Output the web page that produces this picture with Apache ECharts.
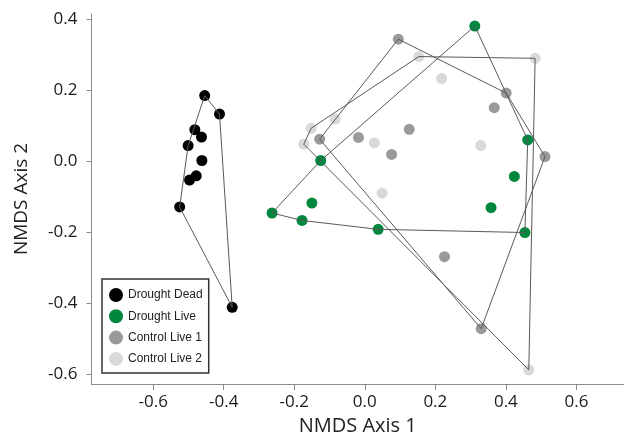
<!DOCTYPE html>
<html>
<head>
<meta charset="utf-8">
<script src="https://cdn.jsdelivr.net/npm/echarts@6/dist/echarts.min.js"></script>
<style>html,body{margin:0;padding:0;background:#fff;}#c{width:624px;height:443px;}</style>
</head>
<body>
<div id="c"></div>
<script>
// Group names
var groupNames = ['Drought Dead', 'Drought Live', 'Control Live 1', 'Control Live 2'];

// NMDS coordinates
var deadX = [-0.454, -0.412, -0.482, -0.463, -0.501, -0.462, -0.478, -0.497, -0.525, -0.376];
var deadY = [0.185, 0.133, 0.089, 0.068, 0.044, 0.002, -0.041, -0.053, -0.129, -0.412];

var liveX = [0.312, -0.125, 0.462, 0.424, -0.150, -0.263, -0.178, 0.038, 0.358, 0.454];
var liveY = [0.381, 0.002, 0.060, -0.043, -0.118, -0.146, -0.167, -0.192, -0.131, -0.201];

var ctrl1X = [0.095, 0.401, 0.367, 0.126, -0.018, -0.128, 0.076, 0.511, 0.226, 0.330];
var ctrl1Y = [0.344, 0.192, 0.151, 0.090, 0.067, 0.062, 0.019, 0.013, -0.269, -0.472];

var ctrl2X = [0.153, 0.483, 0.218, -0.084, -0.152, -0.173, 0.027, 0.329, 0.049, 0.465];
var ctrl2Y = [0.295, 0.290, 0.233, 0.119, 0.093, 0.048, 0.052, 0.044, -0.090, -0.588];

// Tick values
var xTicks = [-0.6, -0.4, -0.2, 0.0, 0.2, 0.4, 0.6];
var yTicks = [-0.6, -0.4, -0.2, 0.0, 0.2, 0.4];

function zip(xs, ys) { return xs.map(function (x, i) { return [x, ys[i]]; }); }
function cross(o, a, b) { return (a[0] - o[0]) * (b[1] - o[1]) - (a[1] - o[1]) * (b[0] - o[0]); }
function hull(pts) {
  var p = pts.slice().sort(function (a, b) { return a[0] - b[0] || a[1] - b[1]; });
  var lower = [], upper = [];
  p.forEach(function (q) { while (lower.length >= 2 && cross(lower[lower.length - 2], lower[lower.length - 1], q) <= 0) lower.pop(); lower.push(q); });
  for (var i = p.length - 1; i >= 0; i--) { var q = p[i]; while (upper.length >= 2 && cross(upper[upper.length - 2], upper[upper.length - 1], q) <= 0) upper.pop(); upper.push(q); }
  upper.pop(); lower.pop();
  var h = lower.concat(upper);
  h.push(h[0]);
  return h;
}

var groups = [
  { name: groupNames[0], data: zip(deadX, deadY), color: '#000000' },
  { name: groupNames[1], data: zip(liveX, liveY), color: '#00873e' },
  { name: groupNames[2], data: zip(ctrl1X, ctrl1Y), color: '#9a9a9a' },
  { name: groupNames[3], data: zip(ctrl2X, ctrl2Y), color: '#d9d9d9' }
];

var series = [];
groups.slice().reverse().forEach(function (g) {
  series.push({
    name: g.name, type: 'scatter', data: g.data, symbol: 'circle', symbolSize: 11,
    itemStyle: { color: g.color, opacity: 1 }, z: 2, animation: false
  });
});
groups.forEach(function (g) {
  series.push({
    type: 'line', data: hull(g.data), showSymbol: false, symbol: 'none', z: 3,
    lineStyle: { color: '#5a5a5a', width: 1 }, silent: true, animation: false
  });
});

var chart = echarts.init(document.getElementById('c'), null, { renderer: 'canvas' });
chart.setOption({
  animation: false,
  backgroundColor: '#ffffff',
  grid: { left: 91.5, top: 14, right: 0, bottom: 59, containLabel: false },
  legend: {
    data: groupNames.map(function (n, i) { return { name: n, itemStyle: { color: groups[i].color } }; }),
    orient: 'vertical', left: 102, top: 279,
    padding: [9, 6, 7, 7], itemGap: 7.3, itemWidth: 14, itemHeight: 14, icon: 'circle',
    borderColor: '#333333', borderWidth: 1.5, backgroundColor: '#ffffff',
    textStyle: { fontFamily: 'Liberation Sans', fontSize: 12, color: '#222' }
  },
  xAxis: {
    type: 'value', min: -0.775, max: 0.735,
    name: 'NMDS Axis 1', nameLocation: 'middle', nameGap: 30,
    nameTextStyle: { fontFamily: 'Open Sans', fontSize: 20, color: '#222' },
    axisLine: { show: true, onZero: false, lineStyle: { color: '#8c8c8c', width: 1 } },
    axisTick: { show: true, inside: false, length: 6, customValues: xTicks, lineStyle: { color: '#8c8c8c' } },
    axisLabel: { customValues: xTicks, margin: 10, fontFamily: 'Open Sans', fontSize: 17, color: '#1a1a1a',
      formatter: function (v) { return v.toFixed(1); } },
    splitLine: { show: false }
  },
  yAxis: {
    type: 'value', min: -0.628, max: 0.415,
    name: 'NMDS Axis 2', nameLocation: 'middle', nameGap: 60, nameRotate: 90,
    nameTextStyle: { fontFamily: 'Open Sans', fontSize: 19, color: '#222' },
    axisLine: { show: true, onZero: false, lineStyle: { color: '#8c8c8c', width: 1 } },
    axisTick: { show: true, inside: false, length: 5, customValues: yTicks, lineStyle: { color: '#8c8c8c' } },
    axisLabel: { customValues: yTicks, margin: 14, fontFamily: 'Open Sans', fontSize: 17, color: '#1a1a1a',
      formatter: function (v) { return v.toFixed(1); } },
    splitLine: { show: false }
  },
  series: series
});
</script>
</body>
</html>
